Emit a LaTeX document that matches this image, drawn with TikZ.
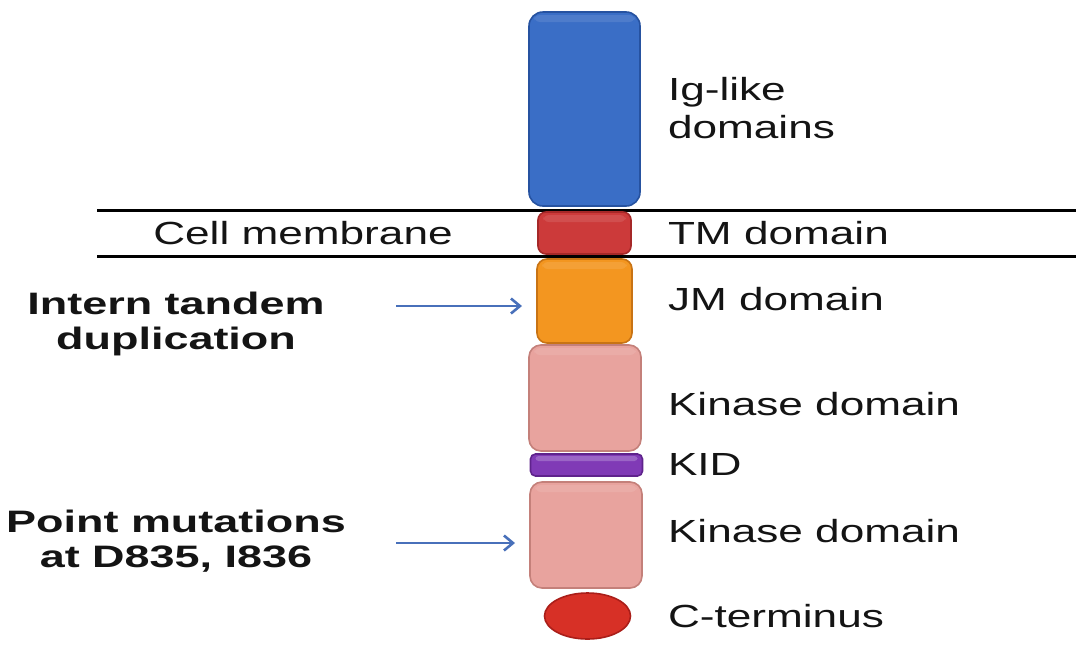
\documentclass[tikz,border=0pt]{standalone}
\usepackage{fontspec}
\usetikzlibrary{arrows.meta,shapes.geometric}
\newfontfamily\labfont{Liberation Sans}[FakeStretch=1.38]
\newfontfamily\boldlabfont{Liberation Sans}[FakeStretch=1.45]

\definecolor{igblue}{RGB}{58,110,198}
\definecolor{igblueD}{RGB}{38,82,160}
\definecolor{tmred}{RGB}{204,58,58}
\definecolor{tmredD}{RGB}{165,40,40}
\definecolor{jmorange}{RGB}{243,150,32}
\definecolor{jmorangeD}{RGB}{200,115,20}
\definecolor{kinpink}{RGB}{232,163,158}
\definecolor{kinpinkD}{RGB}{196,128,122}
\definecolor{kidpurple}{RGB}{128,58,182}
\definecolor{kidpurpleD}{RGB}{95,35,140}
\definecolor{ctred}{RGB}{215,48,38}
\definecolor{ctredD}{RGB}{170,30,25}
\definecolor{arrowblue}{RGB}{72,112,186}
\definecolor{txt}{RGB}{20,20,20}

\tikzset{
  domainbox/.style={rectangle, inner sep=0pt, outer sep=0pt, line width=1.6pt},
  lab/.style={inner sep=0pt, outer sep=0pt, text=txt, font={\labfont\fontsize{32}{38}\selectfont}},
  boldlab/.style={inner sep=0pt, outer sep=0pt, text=txt, align=center,
    font={\boldlabfont\bfseries\fontsize{31}{35}\selectfont}},
  membrane/.style={line width=3pt, black},
  mutarrow/.style={line width=2.6pt, arrowblue, -{Straight Barb[length=9pt,width=15pt,line width=2.6pt]}}
}

\begin{document}
\begin{tikzpicture}[x=1pt,y=-1pt]
  \useasboundingbox (0,0) rectangle (1076,646);
  \fill[white] (0,0) rectangle (1076,646);

  % membrane boundaries
  \coordinate (mtl) at (97,210);
  \coordinate (mtr) at (1076,210);
  \coordinate (mbl) at (97,256);
  \coordinate (mbr) at (1076,256);
  \draw[membrane] (mtl) -- (mtr);
  \draw[membrane] (mbl) -- (mbr);

  % receptor domains, top to bottom
  \node[domainbox, rounded corners=14pt, fill=igblue, draw=igblueD,
        minimum width=111pt, minimum height=194pt] (ig) at (584.5,109) {};
  \node[domainbox, rounded corners=8pt, fill=tmred, draw=tmredD,
        minimum width=93pt, minimum height=42pt] (tm) at (584.5,233) {};
  \node[domainbox, rounded corners=10pt, fill=jmorange, draw=jmorangeD,
        minimum width=95pt, minimum height=84pt] (jm) at (584.5,301) {};
  \node[domainbox, rounded corners=12pt, fill=kinpink, draw=kinpinkD,
        minimum width=112pt, minimum height=106pt] (kin1) at (585,398) {};
  \node[domainbox, rounded corners=5pt, fill=kidpurple, draw=kidpurpleD,
        minimum width=112pt, minimum height=22pt] (kid) at (586.5,465) {};
  \node[domainbox, rounded corners=12pt, fill=kinpink, draw=kinpinkD,
        minimum width=112pt, minimum height=106pt] (kin2) at (586,535) {};
  \node[domainbox, ellipse, fill=ctred, draw=ctredD,
        minimum width=86pt, minimum height=46pt] (ct) at (587.5,616) {};

  % faint sheen on the upper edges
  \foreach \n in {ig,tm,jm,kin1,kin2}{
    \fill[white, opacity=0.10, rounded corners=6pt]
      ([xshift=5pt,yshift=-3pt]\n.north west) rectangle ([xshift=-5pt,yshift=-10pt]\n.north east);
  }
  \fill[white, opacity=0.22, rounded corners=3pt]
    ([xshift=5pt,yshift=-2pt]kid.north west) rectangle ([xshift=-5pt,yshift=-7pt]kid.north east);

  % domain names
  \node[lab, anchor=base west] (igl1) at (668,100) {Ig-like};
  \node[lab, anchor=base west] (igl2) at (668,138) {domains};
  \node[lab, anchor=base west] (tml) at (668,244) {TM domain};
  \node[lab, anchor=base] (cml) at (303,244) {Cell membrane};
  \node[lab, anchor=base west] (jml) at (668,310) {JM domain};
  \node[lab, anchor=base west] (kin1l) at (668,415) {Kinase domain};
  \node[lab, anchor=base west] (kidl) at (668,475) {KID};
  \node[lab, anchor=base west] (kin2l) at (668,542) {Kinase domain};
  \node[lab, anchor=base west] (ctl) at (668,627) {C-terminus};

  % mutation sites
  \node[boldlab] (itd) at (176,324) {Intern tandem\\duplication};
  \node[boldlab] (pm) at (176,541) {Point mutations\\at D835, I836};

  \coordinate (a1) at (396,306);
  \coordinate (a2) at (396,543);
  \draw[mutarrow, shorten >=15pt] (a1) -- (a1 -| jm.west);
  \draw[mutarrow, shorten >=15pt] (a2) -- (a2 -| kin2.west);
\end{tikzpicture}
\end{document}
